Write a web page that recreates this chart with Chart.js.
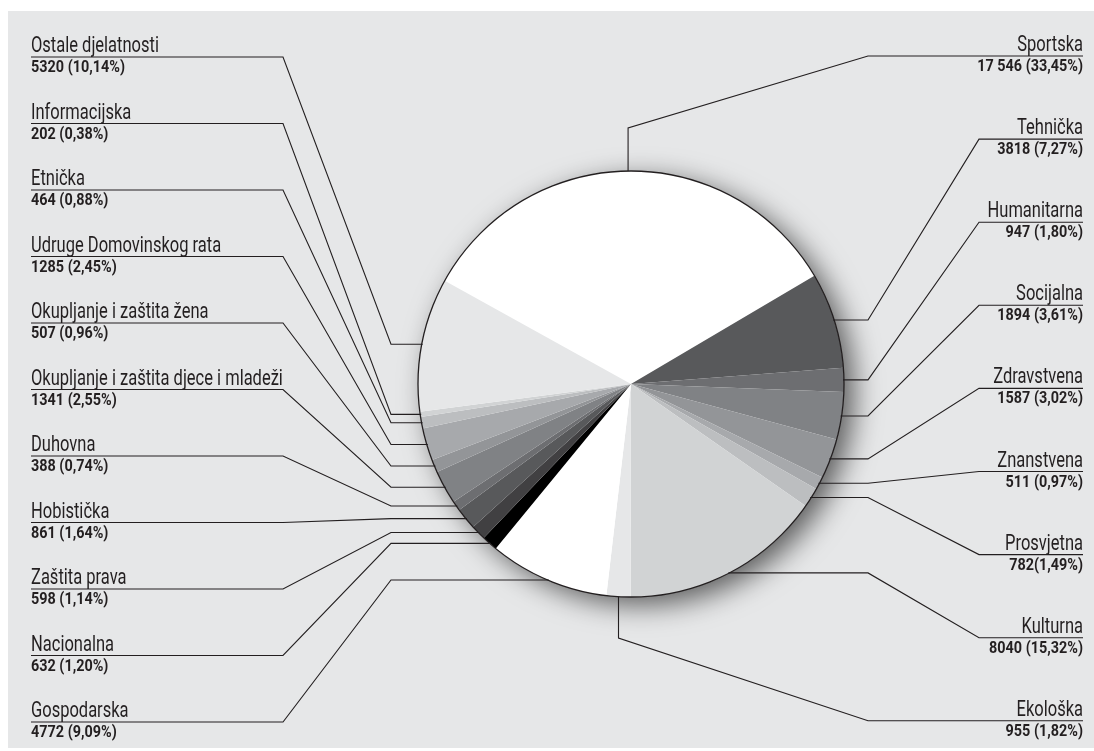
<!DOCTYPE html>
<html>
<head>
<meta charset="utf-8">
<script src="https://cdn.jsdelivr.net/npm/chart.js@4.4.0/dist/chart.umd.min.js"></script>
<style>
    body { margin: 0; background: #fff; }
    #wrap { width: 1094px; height: 751px; position: relative; }
</style>
</head>
<body>
<div id="wrap"><canvas id="pie"></canvas></div>
<script>
// slices in clockwise order, starting with Sportska
const categories = [
    "Sportska", "Tehnička", "Humanitarna", "Socijalna", "Zdravstvena", "Znanstvena",
    "Prosvjetna", "Kulturna", "Ekološka", "Gospodarska", "Nacionalna", "Zaštita prava",
    "Hobistička", "Duhovna", "Okupljanje i zaštita djece i mladeži", "Okupljanje i zaštita žena",
    "Udruge Domovinskog rata", "Etnička", "Informacijska", "Ostale djelatnosti"
];
const counts = [17546, 3818, 947, 1894, 1587, 511, 782, 8040, 955, 4772, 632, 598, 861, 388, 1341, 507, 1285, 464, 202, 5320];
const valueLabels = [
    "17 546 (33,45%)", "3818 (7,27%)", "947 (1,80%)", "1894 (3,61%)", "1587 (3,02%)", "511 (0,97%)",
    "782(1,49%)", "8040 (15,32%)", "955 (1,82%)", "4772 (9,09%)", "632 (1,20%)", "598 (1,14%)",
    "861 (1,64%)", "388 (0,74%)", "1341 (2,55%)", "507 (0,96%)", "1285 (2,45%)", "464 (0,88%)",
    "202 (0,38%)", "5320 (10,14%)"
];
const sliceColors = [
    "#ffffff", "#58595b", "#6d6e71", "#808285", "#939598", "#a7a9ac",
    "#bcbec0", "#d1d3d4", "#e6e7e8", "#ffffff", "#000000", "#414042",
    "#58595b", "#6d6e71", "#808285", "#939598", "#a7a9ac", "#bcbec0",
    "#d1d3d4", "#e6e7e8"
];
// label column and row for each slice
const side = ["R","R","R","R","R","R","R","R","R","L","L","L","L","L","L","L","L","L","L","L"];
const slot = [0, 1, 2, 3, 4, 5, 6, 7, 8, 10, 9, 8, 7, 6, 5, 4, 3, 2, 1, 0];

const LINE = "#231f20";

function drawText(ctx, txt, x, y, font, align, sx) {
    ctx.save();
    ctx.font = font;
    ctx.translate(x, y);
    ctx.scale(sx, 1);
    ctx.textAlign = align;
    ctx.fillStyle = "#231f20";
    ctx.fillText(txt, 0, 0);
    ctx.restore();
}

const leaders = {
    id: "leaders",
    beforeDraw(chart) {
        const ctx = chart.ctx;
        ctx.save();
        ctx.fillStyle = "#ffffff";
        ctx.fillRect(0, 0, chart.width, chart.height);
        ctx.fillStyle = "#e6e7e8";
        ctx.fillRect(8, 11, chart.width - 8, 737);
        ctx.restore();
    },
    beforeDatasetsDraw(chart) {
        const a = chart.getDatasetMeta(0).data[0];
        const ctx = chart.ctx;
        ctx.save();
        ctx.shadowColor = "rgba(0,0,0,0.6)";
        ctx.shadowBlur = 28;
        ctx.shadowOffsetX = 10;
        ctx.shadowOffsetY = 8;
        ctx.fillStyle = "#fff";
        ctx.beginPath();
        ctx.arc(a.x, a.y, a.outerRadius, 0, Math.PI * 2);
        ctx.fill();
        ctx.restore();
    },
    afterDatasetsDraw(chart) {
        const ctx = chart.ctx;
        const arcs = chart.getDatasetMeta(0).data;
        const cx = arcs[0].x, cy = arcs[0].y, R = arcs[0].outerRadius;

        ctx.save();
        ctx.strokeStyle = LINE;
        ctx.lineWidth = 1.3;
        ctx.beginPath();
        ctx.arc(cx, cy, R, 0, Math.PI * 2);
        ctx.stroke();

        ctx.lineWidth = 1.1;
        arcs.forEach((arc, i) => {
            const mid = (arc.startAngle + arc.endAngle) / 2;
            const xm = cx + R * Math.cos(mid);
            const ym = cy + R * Math.sin(mid);
            ctx.beginPath();
            if (side[i] === "L") {
                const yu = 57 + 66.5 * slot[i];
                const xe = cx - Math.sqrt(Math.max(R * R - (ym - cy) * (ym - cy), 0));
                ctx.moveTo(31, yu);
                ctx.lineTo(283, yu);
                ctx.lineTo(391, ym);
                ctx.lineTo(xe + 1, ym);
                ctx.stroke();
                drawText(ctx, categories[i], 31, yu - 5, "22px Roboto", "left", 0.75);
                drawText(ctx, valueLabels[i], 31, yu + 15, "bold 16px Roboto", "left", 0.9);
            } else {
                const yu = 56 + 83.1 * slot[i];
                if (i === 0 || i === 8) {
                    const yb = i === 0 ? 128 : 638;
                    const ye = cy + (i === 0 ? -1 : 1) * Math.sqrt(Math.max(R * R - (xm - cx) * (xm - cx), 0));
                    ctx.moveTo(1083, yu);
                    ctx.lineTo(868, yu);
                    ctx.lineTo(xm, yb);
                    ctx.lineTo(xm, ye);
                } else {
                    const xe = cx + Math.sqrt(Math.max(R * R - (ym - cy) * (ym - cy), 0));
                    ctx.moveTo(1083, yu);
                    ctx.lineTo(979, yu);
                    ctx.lineTo(868, ym);
                    ctx.lineTo(xe - 1, ym);
                }
                ctx.stroke();
                drawText(ctx, categories[i], 1083, yu - 5, "22px Roboto", "right", 0.75);
                drawText(ctx, valueLabels[i], 1083, yu + 15, "bold 16px Roboto", "right", 0.9);
            }
        });
        ctx.restore();
    }
};

new Chart(document.getElementById("pie"), {
    type: "pie",
    data: {
        labels: categories,
        datasets: [{
            data: counts,
            backgroundColor: sliceColors,
            borderWidth: 0
        }]
    },
    options: {
        responsive: true,
        maintainAspectRatio: false,
        animation: false,
        rotation: -61,
        layout: { padding: { left: 418, right: 250, top: 171, bottom: 154 } },
        plugins: {
            legend: { display: false },
            tooltip: { enabled: false }
        }
    },
    plugins: [leaders]
});
</script>
</body>
</html>
